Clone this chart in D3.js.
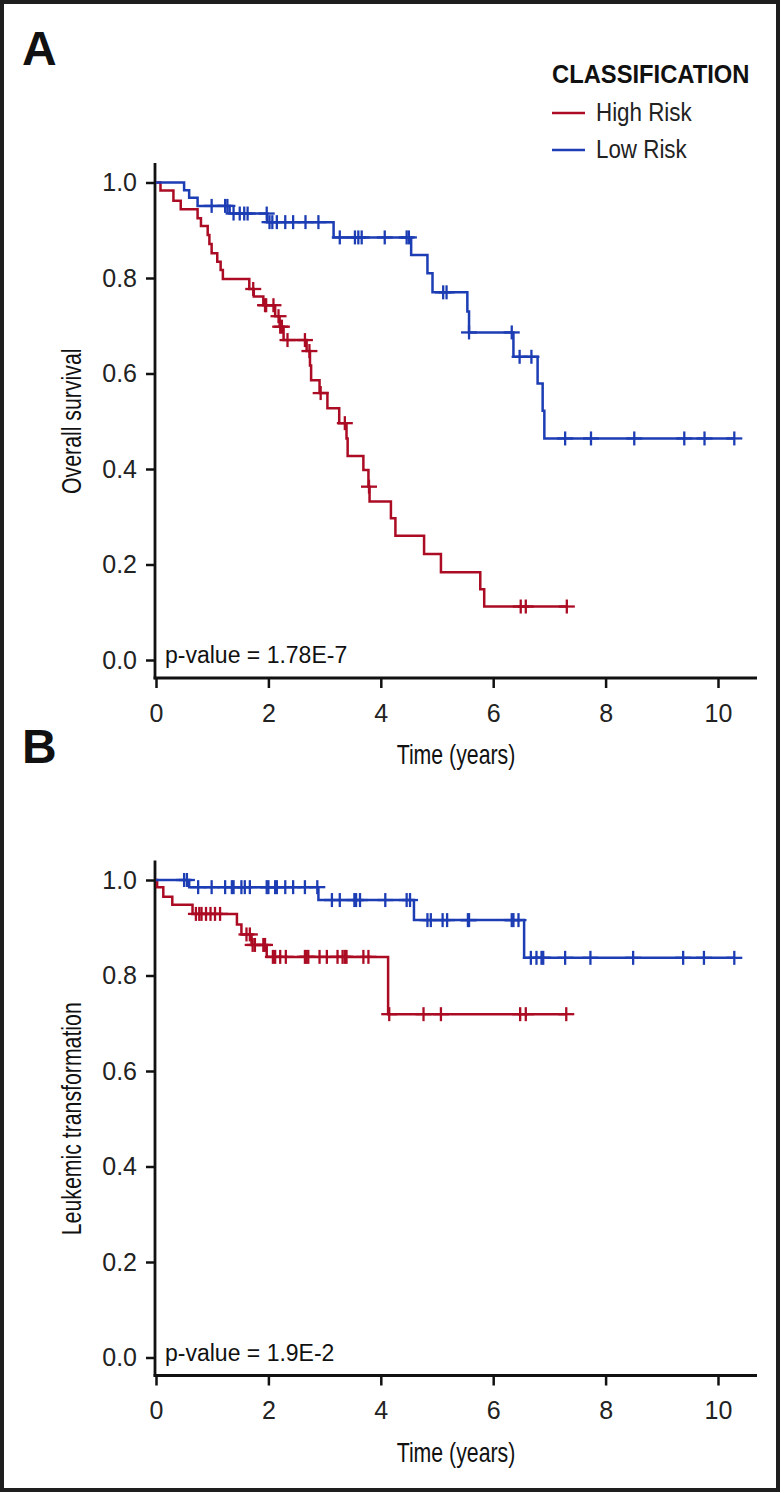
<!DOCTYPE html>
<html><head><meta charset="utf-8">
<script src="https://cdn.jsdelivr.net/npm/d3@7"></script>
<style>html,body{margin:0;padding:0;background:#fff;}svg{display:block;}</style>
</head><body>
<script>
// ---------- DATA ----------
const seriesNames = ["High Risk", "Low Risk"];
const seriesColors = ["#ab0c24", "#1c3db3"];
const xTicks = [0, 2, 4, 6, 8, 10];
const yTicks = [0, 0.2, 0.4, 0.6, 0.8, 1.0];

// Panel A: overall survival — steps [time, survival after drop]
const osHighSteps = [[0.08,0.983],[0.31,0.962],[0.44,0.944],[0.74,0.925],[0.80,0.909],[0.92,0.890],[0.95,0.871],[0.99,0.852],[1.09,0.834],[1.15,0.817],[1.19,0.798],[1.66,0.777],[1.74,0.761],[1.91,0.743],[2.12,0.720],[2.20,0.698],[2.27,0.670],[2.68,0.647],[2.74,0.617],[2.76,0.586],[2.91,0.559],[3.05,0.527],[3.26,0.496],[3.39,0.464],[3.41,0.427],[3.69,0.398],[3.78,0.363],[3.80,0.332],[4.18,0.297],[4.26,0.260],[4.77,0.222],[5.07,0.184],[5.77,0.148],[5.84,0.112]];
const osHighCensor = [1.73,1.94,1.96,2.09,2.18,2.21,2.24,2.34,2.65,2.73,2.93,3.36,3.79,6.49,6.58,7.31];
const osLowSteps = [[0.50,0.984],[0.59,0.968],[0.74,0.951],[1.31,0.935],[1.98,0.917],[3.16,0.885],[4.54,0.848],[4.83,0.810],[4.92,0.770],[5.54,0.730],[5.57,0.686],[6.36,0.635],[6.79,0.579],[6.88,0.522],[6.91,0.464]];
const osLowCensor = [0.99,1.23,1.27,1.38,1.49,1.57,1.63,1.97,2.02,2.07,2.15,2.30,2.44,2.66,2.89,3.27,3.54,3.60,3.66,4.07,4.46,4.50,5.11,5.17,5.57,6.33,6.47,6.68,7.28,7.74,8.51,9.40,9.76,10.29];

// Panel B: leukemic transformation
const ltHighSteps = [[0.02,0.985],[0.13,0.965],[0.29,0.948],[0.65,0.929],[1.44,0.907],[1.52,0.886],[1.70,0.864],[1.97,0.839],[4.13,0.719]];
const ltHighCensor = [0.71,0.77,0.81,0.89,0.97,1.05,1.14,1.61,1.67,1.72,1.76,1.91,1.94,2.08,2.12,2.21,2.31,2.65,2.68,2.71,2.91,3.04,3.23,3.32,3.36,3.39,3.69,3.78,4.15,4.76,5.07,6.48,6.58,7.30];
const ltLowSteps = [[0.59,0.985],[2.89,0.958],[4.59,0.916],[6.55,0.837]];
const ltLowCensor = [0.50,0.55,0.75,0.99,1.23,1.35,1.38,1.52,1.58,1.67,1.97,2.00,2.12,2.15,2.30,2.44,2.65,2.87,3.13,3.27,3.53,3.56,3.63,4.08,4.46,4.52,4.83,4.89,5.10,5.18,5.55,5.57,6.33,6.36,6.45,6.67,6.77,6.86,6.89,7.28,7.73,8.49,9.38,9.75,10.29];

const panels = [
  {letter:"A", yLabel:"Overall survival", pText:"p-value = 1.78E-7",
   series:[{steps:osHighSteps, censor:osHighCensor},{steps:osLowSteps, censor:osLowCensor}],
   top:182.5, bottom:660},
  {letter:"B", yLabel:"Leukemic transformation", pText:"p-value = 1.9E-2",
   series:[{steps:ltHighSteps, censor:ltHighCensor},{steps:ltLowSteps, censor:ltLowCensor}],
   top:880, bottom:1357.5}
];

// ---------- DRAW ----------
const W = 780, H = 1492;
const svg = d3.select("body").append("svg").attr("width", W).attr("height", H);
svg.append("rect").attr("x",2).attr("y",2).attr("width",W-4).attr("height",H-4)
  .attr("fill","#fff").attr("stroke","#1e1e1e").attr("stroke-width",4);

const sans = "'Liberation Sans', Arial, Helvetica, sans-serif";

// condensed look: squeeze text horizontally
function condense(sel, factor){
  const n = sel.node();
  const len = n.getComputedTextLength();
  sel.attr("textLength", len * factor).attr("lengthAdjust", "spacingAndGlyphs");
  return sel;
}

const x = d3.scaleLinear().domain([0, 10]).range([156, 718]);
const xAxisEnd = 757;
const axisLeftX = 155;

function survAt(steps, t){
  let s = 1;
  for (const [tt, v] of steps) { if (tt <= t + 1e-9) s = v; }
  return s;
}

panels.forEach((p, pi) => {
  const y = d3.scaleLinear().domain([0, 1]).range([p.bottom, p.top]);
  const axisY = p.bottom + 18;
  const g = svg.append("g");

  // panel letter
  g.append("text").attr("x", 22).attr("y", p.top - 117.5)
    .attr("font-family", sans).attr("font-weight", "bold").attr("font-size", 48)
    .attr("fill", "#111").text(p.letter);

  // y axis
  const ya = g.append("g").attr("transform", `translate(${axisLeftX},0)`)
    .call(d3.axisLeft(y).tickValues(yTicks).tickFormat(d3.format(".1f")).tickSize(9).tickPadding(9));
  ya.select(".domain").remove();
  ya.selectAll(".tick line").attr("stroke", "#111").attr("stroke-width", 2.5);
  ya.selectAll(".tick text").attr("font-family", sans).attr("font-size", 25).attr("fill", "#222");
  g.append("line").attr("x1", axisLeftX).attr("x2", axisLeftX)
    .attr("y1", p.top - 19.5).attr("y2", axisY + 1.25)
    .attr("stroke", "#111").attr("stroke-width", 2.8);

  // x axis
  const xa = g.append("g").attr("transform", `translate(0,${axisY})`)
    .call(d3.axisBottom(x).tickValues(xTicks).tickFormat(d3.format("d")).tickSize(10).tickPadding(16));
  xa.select(".domain").remove();
  xa.selectAll(".tick line").attr("stroke", "#111").attr("stroke-width", 2.5);
  xa.selectAll(".tick text").attr("font-family", sans).attr("font-size", 25).attr("fill", "#222");
  g.append("line").attr("x1", axisLeftX - 1.4).attr("x2", xAxisEnd)
    .attr("y1", axisY).attr("y2", axisY).attr("stroke", "#111").attr("stroke-width", 2.8);

  // axis titles
  condense(g.append("text").attr("x", (axisLeftX + xAxisEnd) / 2).attr("y", axisY + 86)
    .attr("text-anchor", "middle").attr("font-family", sans).attr("font-size", 28)
    .attr("fill", "#111").text("Time (years)"), 0.76);
  condense(g.append("text").attr("transform", `translate(81,${(p.top + p.bottom) / 2}) rotate(-90)`)
    .attr("text-anchor", "middle").attr("font-family", sans).attr("font-size", 28)
    .attr("fill", "#111").text(p.yLabel), 0.76);

  // p-value
  g.append("text").attr("x", 165).attr("y", p.bottom + 3)
    .attr("font-family", sans).attr("font-size", 23).attr("fill", "#111").text(p.pText);

  // curves
  const line = d3.line().x(d => x(d[0])).y(d => y(d[1])).curve(d3.curveStepAfter);
  p.series.forEach((s, si) => {
    const col = seriesColors[si];
    const tEnd = d3.max(s.censor.concat(s.steps.map(d => d[0])));
    const pts = [[0, 1]].concat(s.steps, [[tEnd, survAt(s.steps, tEnd)]]);
    g.append("path").attr("d", line(pts)).attr("fill", "none")
      .attr("stroke", col).attr("stroke-width", 2.5);
    const cg = g.append("g").attr("stroke", col).attr("stroke-width", 2.3);
    s.censor.forEach(t => {
      const cx = x(t), cy = y(survAt(s.steps, t));
      cg.append("line").attr("x1", cx).attr("x2", cx).attr("y1", cy - 7).attr("y2", cy + 7);
      cg.append("line").attr("x1", cx - 8).attr("x2", cx + 8).attr("y1", cy).attr("y2", cy);
    });
  });
});

// legend
const lg = svg.append("g");
condense(lg.append("text").attr("x", 552).attr("y", 83).attr("font-family", sans)
  .attr("font-weight", "bold").attr("font-size", 25).attr("fill", "#111").text("CLASSIFICATION"), 0.95);
seriesNames.forEach((n, i) => {
  const yy = 113 + i * 37;
  lg.append("line").attr("x1", 552).attr("x2", 585).attr("y1", yy).attr("y2", yy)
    .attr("stroke", seriesColors[i]).attr("stroke-width", 2.5);
  condense(lg.append("text").attr("x", 596).attr("y", yy + 8).attr("font-family", sans)
    .attr("font-size", 26).attr("fill", "#222").text(n), 0.86);
});
</script>
</body></html>
